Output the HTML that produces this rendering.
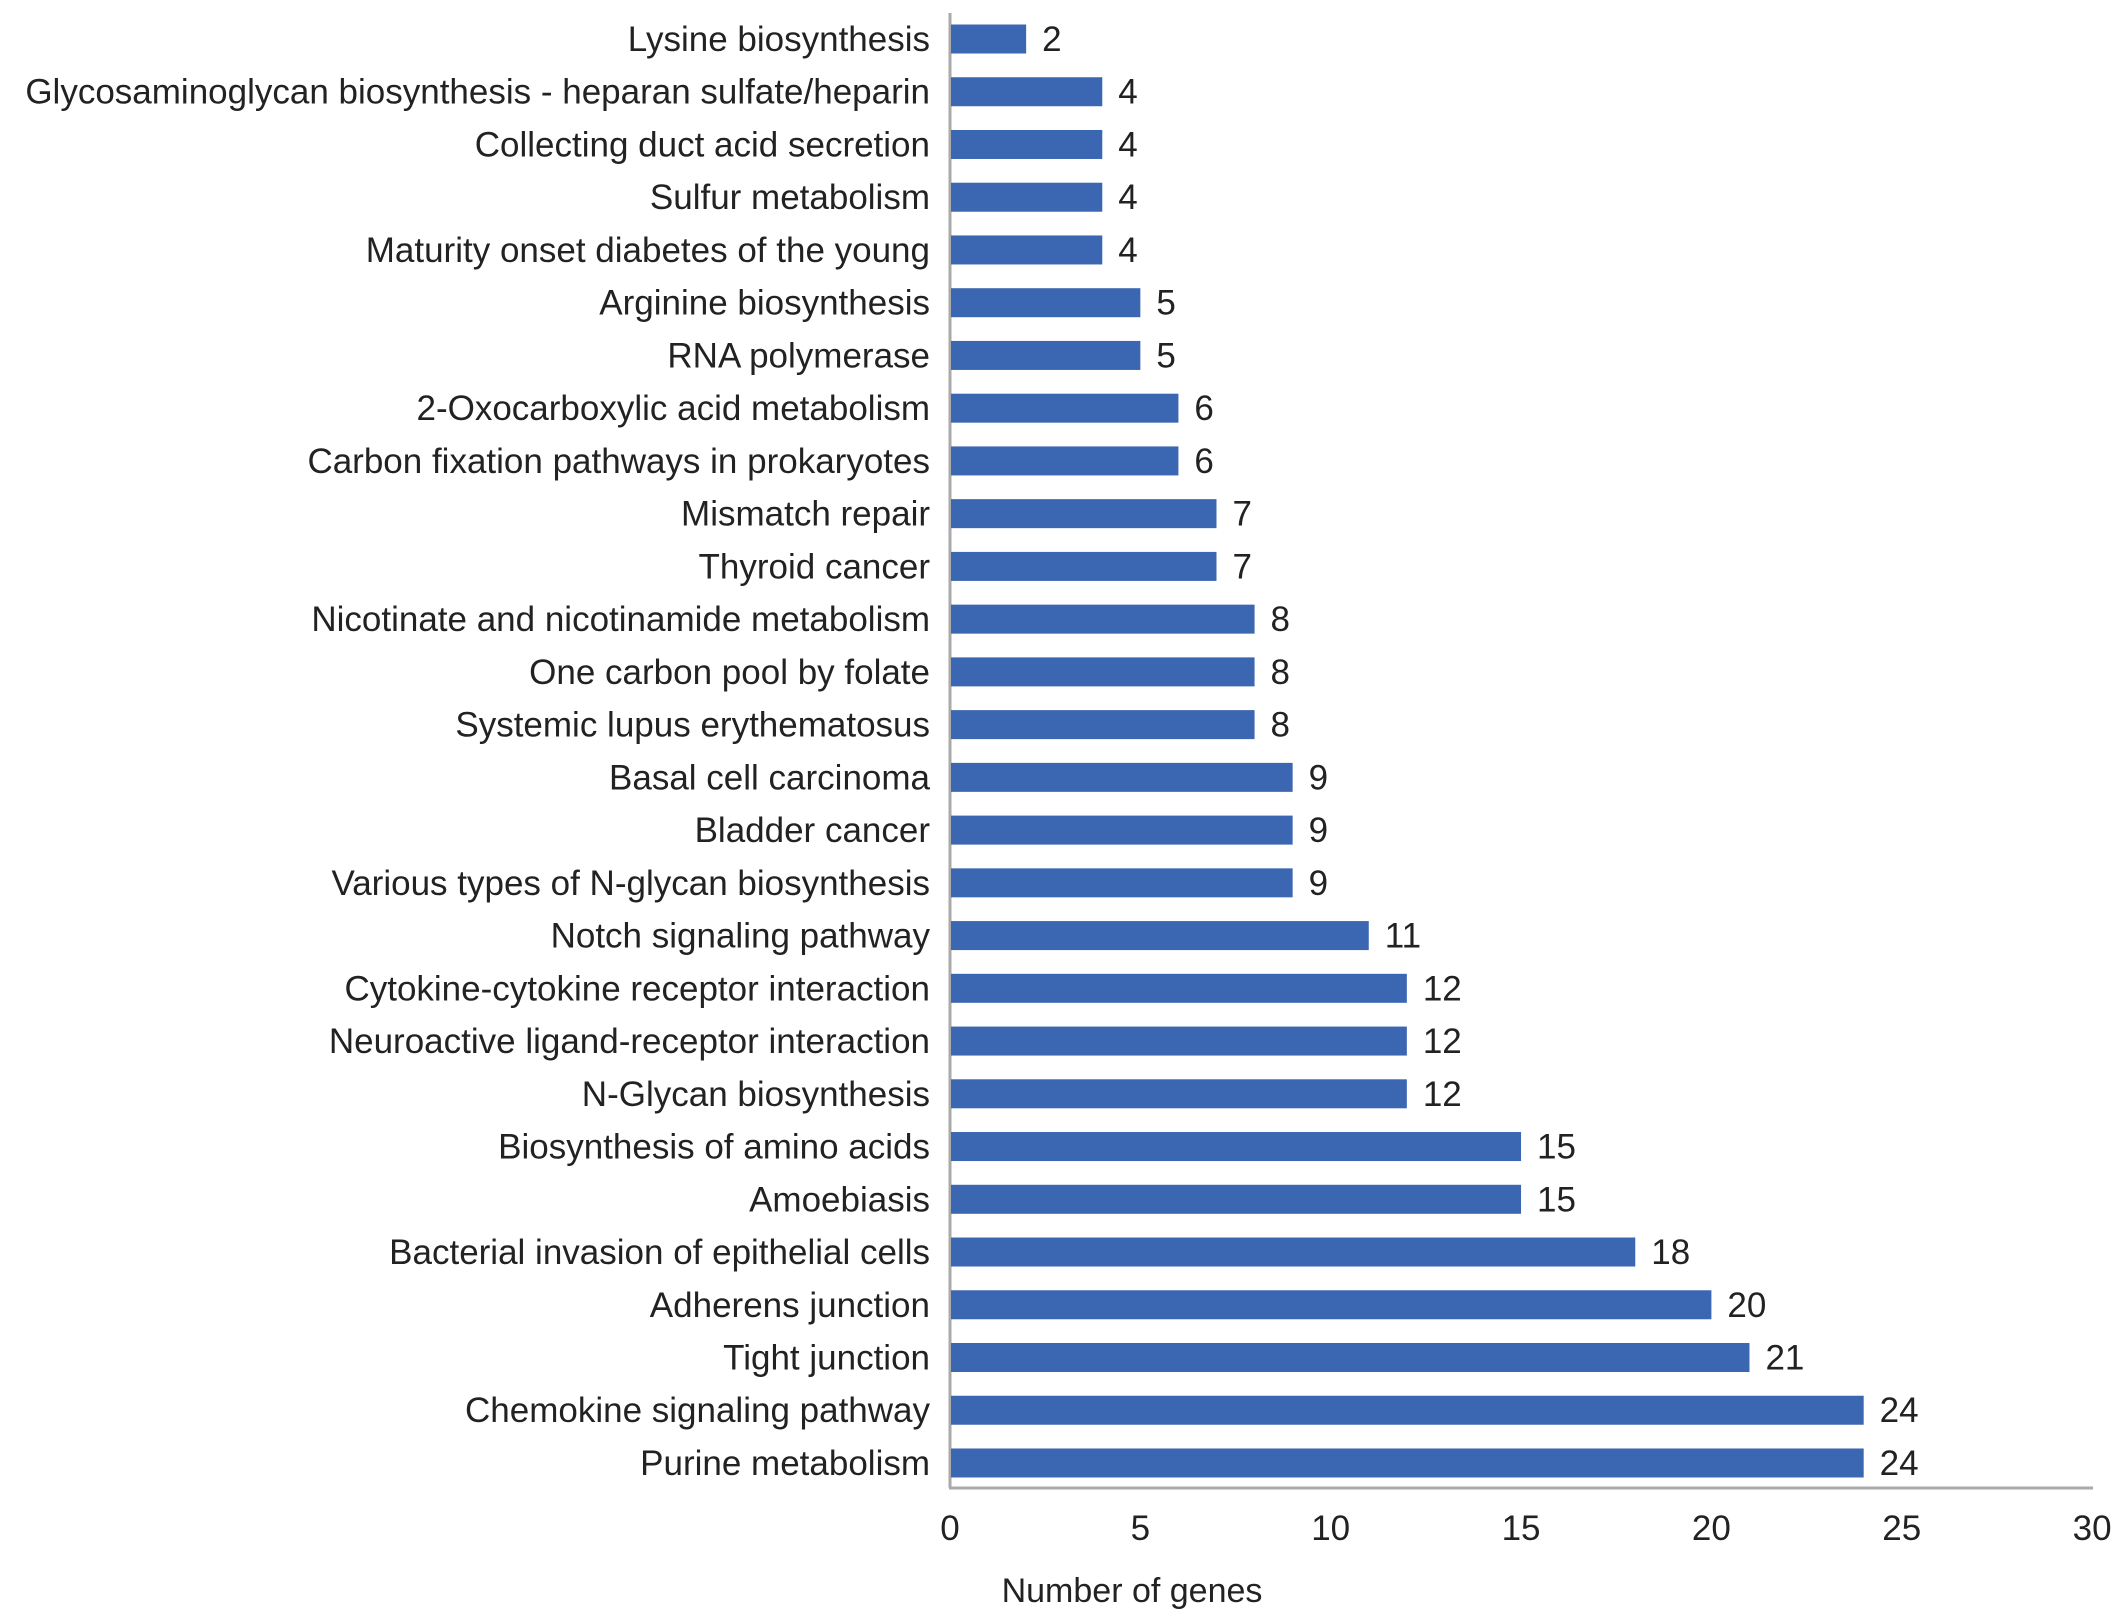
<!DOCTYPE html>
<html><head><meta charset="utf-8"><style>
html,body{margin:0;padding:0;background:#fff;}
svg{display:block;font-family:"Liberation Sans",Arial,sans-serif;}
</style></head><body>
<svg id="chart" width="2126" height="1624" viewBox="0 0 2126 1624" xmlns="http://www.w3.org/2000/svg">
<line x1="950" y1="13" x2="950" y2="1488" stroke="#aaa" stroke-width="3"/>
<line x1="949" y1="1488" x2="2093" y2="1488" stroke="#aaa" stroke-width="3"/>
<g id="bars"></g>
<g id="ticks"></g>
<text x="1132" y="1602" font-size="34" text-anchor="middle" fill="#222">Number of genes</text>
</svg>
<script>
const categories = ["Lysine biosynthesis","Glycosaminoglycan biosynthesis - heparan sulfate/heparin","Collecting duct acid secretion","Sulfur metabolism","Maturity onset diabetes of the young","Arginine biosynthesis","RNA polymerase","2-Oxocarboxylic acid metabolism","Carbon fixation pathways in prokaryotes","Mismatch repair","Thyroid cancer","Nicotinate and nicotinamide metabolism","One carbon pool by folate","Systemic lupus erythematosus","Basal cell carcinoma","Bladder cancer","Various types of N-glycan biosynthesis","Notch signaling pathway","Cytokine-cytokine receptor interaction","Neuroactive ligand-receptor interaction","N-Glycan biosynthesis","Biosynthesis of amino acids","Amoebiasis","Bacterial invasion of epithelial cells","Adherens junction","Tight junction","Chemokine signaling pathway","Purine metabolism"];
const values = [2,4,4,4,4,5,5,6,6,7,7,8,8,8,9,9,9,11,12,12,12,15,15,18,20,21,24,24];
const tickValues = [0,5,10,15,20,25,30];
const NS="http://www.w3.org/2000/svg";
const x = v => 950 + v*38.07;
const y = i => 39 + i*52.74;
const bars=document.getElementById('bars');
categories.forEach((c,i)=>{
  const r=document.createElementNS(NS,'rect');
  
  
  r.setAttribute('x',x(0)+1);r.setAttribute('y',y(i)-14.5);
  r.setAttribute('width',x(values[i])-x(0)-1);r.setAttribute('height',29);
  r.setAttribute('fill','#3b66b1');
  bars.appendChild(r);
  const t=document.createElementNS(NS,'text');
  
  
  t.setAttribute('x',930);t.setAttribute('y',y(i)+12);
  t.setAttribute('font-size','35');t.setAttribute('text-anchor','end');t.setAttribute('fill','#222');
  t.textContent=c;bars.appendChild(t);
  const v=document.createElementNS(NS,'text');
  
  
  v.setAttribute('x',x(values[i])+16);v.setAttribute('y',y(i)+12);
  v.setAttribute('font-size','35');v.setAttribute('fill','#222');
  v.textContent=values[i];bars.appendChild(v);
});
const ticks=document.getElementById('ticks');
tickValues.forEach(tv=>{
  const t=document.createElementNS(NS,'text');
  
  
  t.setAttribute('x',x(tv));t.setAttribute('y',1540);
  t.setAttribute('font-size','35');t.setAttribute('text-anchor','middle');t.setAttribute('fill','#222');
  t.textContent=tv;ticks.appendChild(t);
});
</script>
</body></html>
